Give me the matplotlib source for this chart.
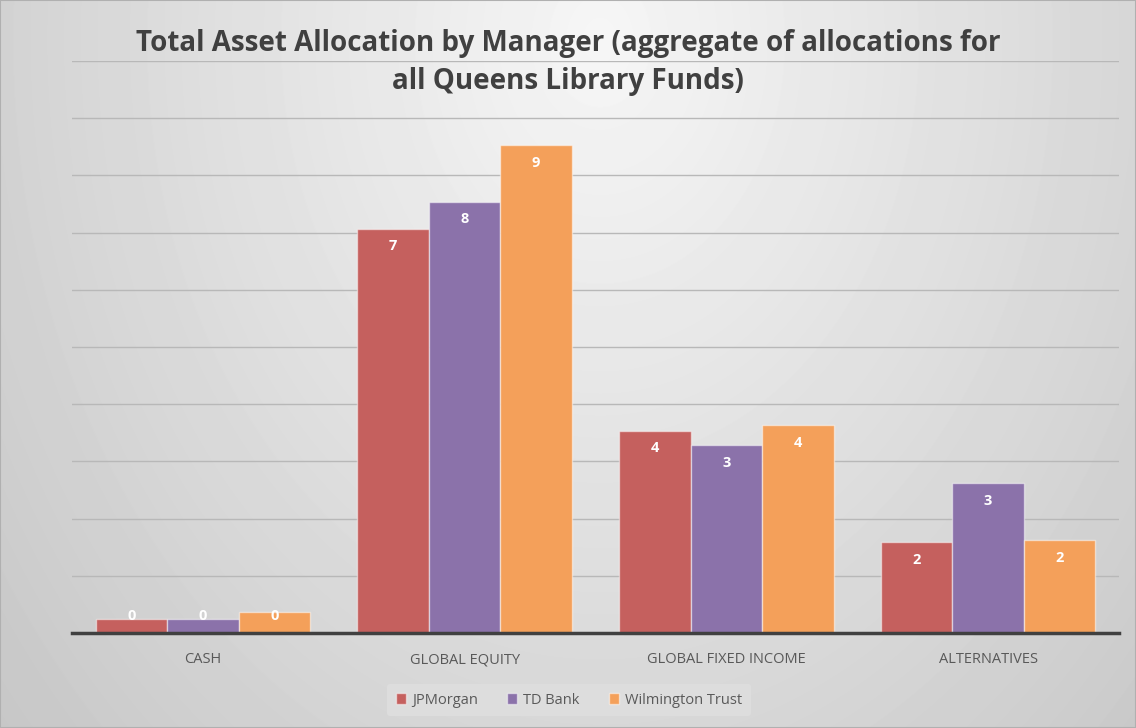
import matplotlib
matplotlib.use('Agg')
import matplotlib.pyplot as plt
import numpy as np

CATEGORIES = ['CASH', 'GLOBAL EQUITY', 'GLOBAL FIXED INCOME', 'ALTERNATIVES']
MANAGERS = ['JPMorgan', 'TD Bank', 'Wilmington Trust']
JPMORGAN = [0.24, 7.07, 3.54, 1.59]
TD_BANK = [0.24, 7.54, 3.28, 2.62]
WILMINGTON = [0.37, 8.53, 3.63, 1.62]
COLORS = ['#C5605E', '#8B72AA', '#F4A05A']

TITLE = 'Total Asset Allocation by Manager (aggregate of allocations for\nall Queens Library Funds)'

plt.rcParams['font.family'] = ['Open Sans', 'DejaVu Sans']

fig = plt.figure(figsize=(11.36, 7.28), dpi=100)

# radial gray background like the Excel chart area
bg = fig.add_axes([0, 0, 1, 1], zorder=-10)
yy, xx = np.mgrid[0:728, 0:1136]
r = np.sqrt(((xx - 600) * 0.14 / 600) ** 2 + ((yy - 40) * 0.12 / 678) ** 2)
shade = np.clip(0.965 - r, 0.76, 0.965)
bg.imshow(shade, cmap='gray', vmin=0, vmax=1, aspect='auto', interpolation='bilinear')
bg.axis('off')

ax = fig.add_axes([72 / 1136, 1 - 633 / 728, (1119 - 72) / 1136, (633 - 61) / 728])
ax.patch.set_alpha(0)

series = [JPMORGAN, TD_BANK, WILMINGTON]
x = np.arange(len(CATEGORIES))
width = 0.273
for i, (name, vals, col) in enumerate(zip(MANAGERS, series, COLORS)):
    pos = x + (i - 1) * width
    ax.bar(pos, vals, width, color=col, edgecolor=(1, 1, 1, 0.5), linewidth=1,
           label=name, zorder=3)
    for px, v in zip(pos, vals):
        ty = max(v - 0.31, 0.3)
        ax.text(px, ty, f'{v:.0f}', ha='center', va='center', color='white',
                fontsize=10.5, fontweight='bold', zorder=4)

ax.set_xlim(-0.5, 3.5)
ax.set_ylim(0, 10)
ax.set_yticks(np.arange(1, 11))
ax.yaxis.grid(True, color='#B8B8B8', linewidth=1, zorder=0)
ax.tick_params(axis='y', left=False, labelleft=False)
ax.set_xticks(x)
ax.set_xticklabels(CATEGORIES, fontsize=10.5, color='#595959')
ax.tick_params(axis='x', length=0, pad=14)
for s in ['top', 'right', 'left']:
    ax.spines[s].set_visible(False)
ax.spines['bottom'].set_color('#404040')
ax.spines['bottom'].set_linewidth(2.5)
ax.spines['bottom'].set_zorder(5)

fig.text(0.5, 0.96, TITLE, ha='center', va='top', fontsize=20, fontweight='bold',
         color='#404040', linespacing=1.4)

leg = fig.legend(loc='center', bbox_to_anchor=(569 / 1136, 1 - 700 / 728), ncol=3,
                 frameon=True, fontsize=10.5, handlelength=0.7, handleheight=0.7,
                 columnspacing=2.0, handletextpad=0.4, borderpad=0.6)
leg.get_frame().set_facecolor('#DEDEDE')
leg.get_frame().set_edgecolor('none')
leg.get_frame().set_alpha(0.9)
for t in leg.get_texts():
    t.set_color('#595959')

# thin outer border of the chart area
fig.patches.append(plt.Rectangle((0, 0), 1, 1, transform=fig.transFigure, fill=False,
                                 edgecolor='#B0B0B0', linewidth=1.5))

fig.savefig('out.png', dpi=100)
